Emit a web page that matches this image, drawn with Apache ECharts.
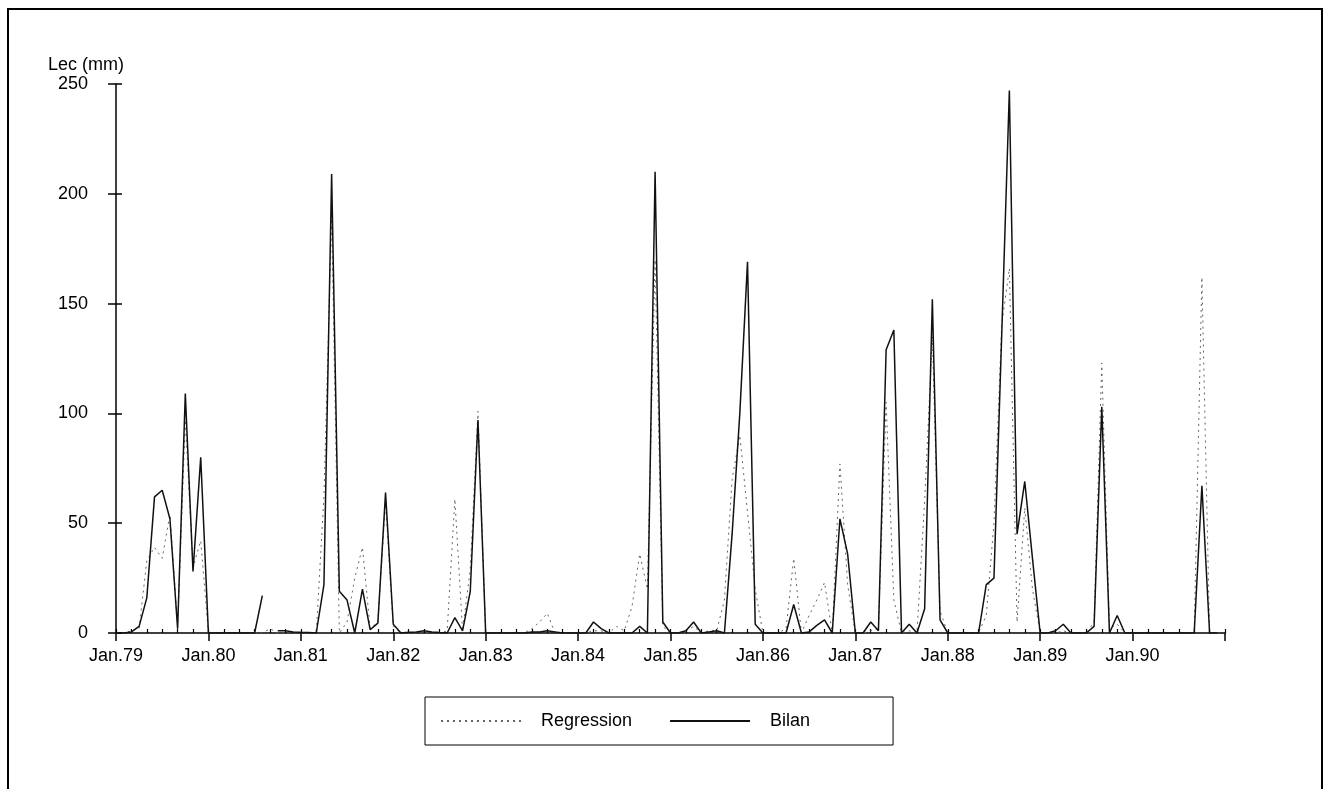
<!DOCTYPE html>
<html><head><meta charset="utf-8">
<script src="https://cdn.jsdelivr.net/npm/echarts/dist/echarts.min.js"></script>
<style>html,body{margin:0;padding:0;background:#fff}#c{width:1330px;height:789px}</style>
</head><body><div id="c"></div>
<script>
// Tick labels (one per January)
const yearLabels = ['Jan.79','Jan.80','Jan.81','Jan.82','Jan.83','Jan.84','Jan.85','Jan.86','Jan.87','Jan.88','Jan.89','Jan.90'];
const seriesNames = ['Regression', 'Bilan'];
// Monthly values, Jan 1979 .. Dec 1990 ('-' = missing)
const bilan = [
  0, 0, 0.5, 3, 16, 62, 65, 52, 2, 109, 28, 80,
  0, 0, 0, 0, 0, 0, 0, 17, '-', 1, 1, 0.5,
  0.3, 0.2, 0, 22, 209, 19, 15, 0, 20, 1.5, 4.5, 64,
  4, 0, 0.3, 0.5, 1, 0.5, 0.2, 0, 7, 1, 19, 97,
  0, 0, 0, 0, 0, 0, 0.5, 0.5, 1, 0.5, 0, 0,
  0, 0, 5, 2, 0, 0, 0, 0, 3, 0, 210, 5,
  0, 0, 1, 5, 0, 0.5, 1, 0, 45, 100, 169, 4,
  0, 0, 0, 0, 13, 0, 0.5, 3.5, 6, 0, 52, 36,
  0, 0, 5, 1, 129, 138, 0, 4, 0, 11, 152, 6,
  0, 0, 0, 0, 0, 22, 25, 135, 247, 45, 69, 34,
  0, 0, 1, 4, 0, 0, 0, 3, 103, 0, 8, 0,
  0, 0, 0, 0, 0, 0, 0, 0, 0, 67, 0, 0
];
const regression = [
  0, 0, 1, 2, 33, 39, 34, 54, 3, 97, 30, 42,
  0, 0, 0, 0, 0, 0, 0, 0, 2, 0, 0, 0,
  0, 0, 0, 62, 190, 0, 5, 25, 39, 2, 5, 60,
  3, 0, 0, 0, 0, 0, 0, 1, 61, 1, 29, 101,
  0, 0, 0, 0, 0, 0, 2, 5, 9, 0, 0, 0,
  0, 0, 1, 1, 0, 3, 1, 12, 36, 20, 170, 3,
  0, 0, 1, 3, 0, 1, 1, 15, 70, 90, 55, 20,
  0, 0, 0, 2, 34, 0, 8, 15, 23, 0, 77, 22,
  0, 0, 1, 2, 105, 15, 0, 1, 0, 60, 135, 10,
  0, 0, 0, 0, 0, 8, 50, 140, 166, 5, 57, 20,
  0, 0, 0, 1, 0, 0, 0, 5, 123, 2, 4, 0,
  0, 0, 0, 0, 0, 0, 0, 0, 0, 162, 0, 0
];

const nMonths = bilan.length;
const toPts = arr => arr.map((v, i) => [i, v]);
const font = 'Liberation Sans, Arial, sans-serif';

const chart = echarts.init(document.getElementById('c'), null, {renderer: 'canvas'});
chart.setOption({
  animation: false,
  backgroundColor: '#fff',
  textStyle: {fontFamily: font},
  graphic: [{
    type: 'rect', silent: true, z: 0,
    shape: {x: 8, y: 9, width: 1314, height: 800},
    style: {fill: 'none', stroke: '#000', lineWidth: 2}
  }],
  grid: {left: 116, right: 105, top: 84, bottom: 156, containLabel: false, outerBoundsMode: 'none'},
  legend: {
    data: seriesNames,
    left: 425, top: 697,
    orient: 'horizontal',
    borderColor: '#000', borderWidth: 1, borderRadius: 0,
    padding: [15, 83, 15, 15],
    itemWidth: 80, itemHeight: 14, itemGap: 37,
    itemStyle: {opacity: 0},
    textStyle: {fontFamily: font, fontSize: 18, color: '#000', padding: [0, 0, 0, 15]}
  },
  xAxis: [{
    type: 'value', min: 0, max: nMonths, interval: 12, position: 'bottom',
    axisLine: {show: true, onZero: false, lineStyle: {color: '#000', width: 1.5}},
    axisTick: {show: true, length: 8, lineStyle: {color: '#000', width: 1.5}},
    splitLine: {show: false},
    axisLabel: {
      fontFamily: font, fontSize: 18, color: '#000', margin: 14,
      formatter: v => (v % 12 === 0 && v / 12 < yearLabels.length) ? yearLabels[v / 12] : ''
    }
  }, {
    type: 'value', min: 0, max: nMonths, interval: 2, position: 'bottom',
    axisLine: {show: false},
    axisTick: {show: true, inside: true, length: 4, lineStyle: {color: '#000', width: 1.2}},
    axisLabel: {show: false},
    splitLine: {show: false}
  }],
  yAxis: [{
    type: 'value', min: 0, max: 250, interval: 50, position: 'left',
    name: 'Lec (mm)', nameLocation: 'end', nameGap: 10,
    nameTextStyle: {fontFamily: font, fontSize: 18, color: '#000', align: 'right', padding: [0, -8, 0, 0]},
    axisLine: {show: true, lineStyle: {color: '#000', width: 1.5}},
    axisTick: {show: true, length: 8, lineStyle: {color: '#000', width: 1.5}},
    splitLine: {show: false},
    axisLabel: {fontFamily: font, fontSize: 18, color: '#000', margin: 28}
  }, {
    type: 'value', min: 0, max: 250, interval: 50, position: 'left',
    axisLine: {show: false},
    axisTick: {show: true, inside: true, length: 6, lineStyle: {color: '#000', width: 1.5}},
    axisLabel: {show: false},
    splitLine: {show: false}
  }],
  series: [{
    name: seriesNames[0], type: 'line', xAxisIndex: 0, yAxisIndex: 0,
    data: toPts(regression), symbol: 'none', z: 2,
    lineStyle: {color: '#666', width: 1, type: [2, 4]},
    itemStyle: {color: '#666'}
  }, {
    name: seriesNames[1], type: 'line', xAxisIndex: 0, yAxisIndex: 0,
    data: toPts(bilan), symbol: 'none', z: 3,
    lineStyle: {color: '#111', width: 1.5},
    itemStyle: {color: '#111'}
  }]
});
</script></body></html>
